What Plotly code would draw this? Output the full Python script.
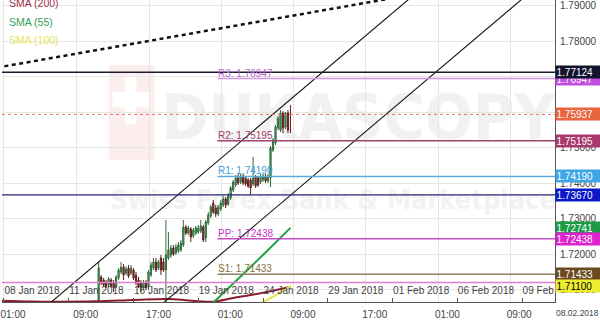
import plotly.graph_objects as go

FONT = "Liberation Sans, Arial, sans-serif"

# ---------------- data ----------------
candle_idx = list(range(78))
open_ = [
    1.70709, 1.71357, 1.71272, 1.71216, 1.71131, 1.71272, 1.71188, 1.71075, 1.71329, 1.71498,
    1.71638, 1.71470, 1.71610, 1.71470, 1.71554, 1.71413, 1.71272, 1.71188, 1.71047, 1.71188,
    1.71075, 1.71413, 1.71610, 1.71779, 1.71610, 1.71892, 1.71779, 1.71554, 1.71892, 1.71977,
    1.72174, 1.72033, 1.72089, 1.72117, 1.72258, 1.72765, 1.72596, 1.72709, 1.72512, 1.72596,
    1.72624, 1.72653, 1.72765, 1.72455, 1.72878, 1.73075, 1.73442, 1.73301, 1.73132, 1.73273,
    1.73386, 1.73555, 1.73414, 1.73583, 1.73808, 1.73949, 1.74146, 1.74034, 1.74203, 1.74146,
    1.74090, 1.74090, 1.73977, 1.74175, 1.74146, 1.74034, 1.74090, 1.74203, 1.74062, 1.74146,
    1.74935, 1.75132, 1.75555, 1.75498, 1.75977, 1.75583, 1.75977, 1.75950]
high = [
    1.71779, 1.71413, 1.71329, 1.71272, 1.71357, 1.71329, 1.71272, 1.71413, 1.71610, 1.71779,
    1.71723, 1.71666, 1.71695, 1.71695, 1.71610, 1.71498, 1.71357, 1.71272, 1.71272, 1.71272,
    1.71554, 1.71779, 1.71892, 1.71892, 1.71836, 1.71977, 1.71892, 1.72963, 1.72624, 1.72258,
    1.72258, 1.72286, 1.72343, 1.72399, 1.72963, 1.72822, 1.72793, 1.72765, 1.72737, 1.72793,
    1.72822, 1.72963, 1.72822, 1.72963, 1.73188, 1.73386, 1.73527, 1.73386, 1.73386, 1.73527,
    1.73639, 1.73611, 1.73723, 1.73921, 1.74090, 1.74231, 1.74287, 1.74259, 1.74259, 1.74203,
    1.74146, 1.74146, 1.74738, 1.74231, 1.74203, 1.74259, 1.74259, 1.74259, 1.74259, 1.75048,
    1.75273, 1.75639, 1.75893, 1.76062, 1.76033, 1.76005, 1.76062, 1.76203]
low = [
    1.70568, 1.71131, 1.71075, 1.71047, 1.71075, 1.71047, 1.70934, 1.71047, 1.71272, 1.71442,
    1.71272, 1.71413, 1.71329, 1.71413, 1.71272, 1.71131, 1.71047, 1.70934, 1.70991, 1.70991,
    1.70991, 1.71357, 1.71554, 1.71498, 1.71554, 1.71413, 1.71498, 1.70568, 1.71836, 1.71892,
    1.71949, 1.71977, 1.72033, 1.72061, 1.72202, 1.72540, 1.72540, 1.72343, 1.72455, 1.72540,
    1.72568, 1.72596, 1.72343, 1.72343, 1.72822, 1.73019, 1.73132, 1.73047, 1.73075, 1.73216,
    1.73329, 1.73301, 1.73358, 1.73527, 1.73752, 1.73893, 1.73949, 1.73977, 1.73949, 1.73921,
    1.73865, 1.73667, 1.73921, 1.73865, 1.73893, 1.73977, 1.74034, 1.74006, 1.74006, 1.73893,
    1.74879, 1.75076, 1.75498, 1.75442, 1.75414, 1.75527, 1.75414, 1.75414]
close = [
    1.71610, 1.71188, 1.71131, 1.71075, 1.71300, 1.71103, 1.71047, 1.71357, 1.71554, 1.71638,
    1.71413, 1.71582, 1.71385, 1.71610, 1.71329, 1.71188, 1.71075, 1.71047, 1.71216, 1.71047,
    1.71498, 1.71695, 1.71779, 1.71554, 1.71779, 1.71554, 1.71554, 1.71977, 1.72117, 1.72174,
    1.72005, 1.72202, 1.72258, 1.72314, 1.72765, 1.72596, 1.72737, 1.72484, 1.72681, 1.72737,
    1.72737, 1.72793, 1.72399, 1.72906, 1.73104, 1.73329, 1.73188, 1.73132, 1.73329, 1.73442,
    1.73555, 1.73386, 1.73639, 1.73865, 1.74034, 1.74146, 1.74006, 1.74203, 1.74006, 1.73977,
    1.73921, 1.73865, 1.74146, 1.73921, 1.73949, 1.74203, 1.74203, 1.74062, 1.74203, 1.74992,
    1.75217, 1.75583, 1.75836, 1.75977, 1.75555, 1.75977, 1.75498, 1.75937]

# moving averages (candle index, value)
sma200_idx = [-39, -27, -16, -1, 14, 28, 35, 41, 46, 54, 61, 68, 77]
sma200_val = [1.70690, 1.70665, 1.70660, 1.70672, 1.70710, 1.70738, 1.70705, 1.70668,
              1.70662, 1.70766, 1.70850, 1.70943, 1.71084]
sma55_idx = [45, 53, 61, 68, 77]
sma55_val = [1.70568, 1.71104, 1.71639, 1.72117, 1.72741]
sma100_idx = [65, 72, 77]
sma100_val = [1.70611, 1.70879, 1.71100]

# drawn trend lines (two anchor points each: candle index, price)
trend_dotted_idx = [-40.8, 129.2]
trend_dotted_val = [1.77256, 1.79352]
channel_upper_idx = [-38.8, 141.2]
channel_upper_val = [1.69476, 1.80175]
channel_lower_idx = [1.2, 185.2]
channel_lower_val = [1.69155, 1.80093]

# pivot levels
pivot_names = ["R3", "R2", "R1", "PP", "S1"]
pivot_vals = [1.76947, 1.75195, 1.74190, 1.72438, 1.71433]
pivot_line_colors = ["#cf95de", "#a0406e", "#5aaed6", "#c34cc6", "#8e7f5e"]
pivot_text_colors = ["#b466cc", "#a0406e", "#3d9dd6", "#c235c2", "#857040"]
pivot_start = 47.7

# full-width level lines
level_vals = [1.77124, 1.75937, 1.73670, 1.71200]
level_colors = ["#1a1a2e", "#e47d62", "#25257a", "#e27ccc"]
level_dash = ["solid", "dot", "solid", "solid"]
level_width = [1.6, 1, 1.3, 1.5]

# price labels on the right axis (drawn in this order)
tag_vals = [1.76947, 1.77124, 1.75937, 1.75195, 1.74190, 1.73670, 1.72741, 1.72438,
            1.71200, 1.71433, 1.71100]
tag_bg = ["#c24ee0", "#13132e", "#e8653e", "#a8386e", "#3ea6e6", "#0b18c8", "#1c9a45",
          "#de22cf", "#e0306e", "#6b4a22", "#eeee30"]
tag_fg = ["white"] * 10 + ["black"]

# axes
y_range = [1.70653, 1.79161]
x_range = [-38.8, 183.2]
price_ticks = [1.71, 1.72, 1.73, 1.74, 1.75, 1.76, 1.77, 1.78, 1.79]
time_grid = [-38, -8.8, 20.4, 49.2, 78.4, 107.2, 136.4, 165.2]
time_labels = ["01:00", "09:00", "17:00", "01:00", "09:00", "17:00", "01:00", "09:00"]
date_ticks = [-38, -12, 14, 40, 66, 92, 118, 144, 170]
date_labels = ["08 Jan 2018", "11 Jan 2018", "16 Jan 2018", "19 Jan 2018", "24 Jan 2018",
               "29 Jan 2018", "01 Feb 2018", "06 Feb 2018", "09 Feb"]
legend_names = ["SMA (200)", "SMA (55)", "SMA (100)"]
legend_colors = ["#a2304a", "#35a05a", "#e6e45a"]

# ---------------- figure ----------------
fig = go.Figure()

WM_FONT = "Liberation Sans Narrow, DejaVu Sans Condensed, sans-serif"
# watermark (behind everything)
fig.add_shape(type="rect", xref="paper", yref="paper", x0=0.193, x1=0.276, y0=0.47, y1=0.785,
              fillcolor="#fdeeee", line_width=0, layer="below")
fig.add_shape(type="rect", xref="paper", yref="paper", x0=0.222, x1=0.243, y0=0.59, y1=0.75,
              fillcolor="white", line_width=0, layer="below")
fig.add_shape(type="rect", xref="paper", yref="paper", x0=0.2, x1=0.267, y0=0.645, y1=0.695,
              fillcolor="white", line_width=0, layer="below")
fig.add_shape(type="rect", xref="paper", yref="paper", x0=0.283, x1=1.0, y0=0.47, y1=0.785,
              fillcolor="rgba(0,0,0,0)", line_width=0, layer="below",
              label=dict(text="DUKASCOPY", textposition="middle left", padding=0,
                         font=dict(family=WM_FONT, size=63, color="#f1f1f1", weight=700)))
fig.add_shape(type="rect", xref="paper", yref="paper", x0=0.19, x1=1.0, y0=0.29, y1=0.40,
              fillcolor="rgba(0,0,0,0)", line_width=0, layer="below",
              label=dict(text="Swiss Forex Bank & Marketplace", textposition="middle left", padding=0,
                         font=dict(family=WM_FONT, size=27, color="#f2f2f2", weight=700)))

# pivot lines
for name, v, lc, tc in zip(pivot_names, pivot_vals, pivot_line_colors, pivot_text_colors):
    fig.add_shape(type="line", xref="x", yref="y", x0=pivot_start, x1=x_range[1], y0=v, y1=v,
                  line=dict(color=lc, width=1.5), layer="above")
    fig.add_annotation(xref="x", yref="y", x=pivot_start, y=v, xanchor="left", yanchor="bottom",
                       yshift=-1, text=f"{name}: {v:.5f}", showarrow=False, borderpad=0,
                       font=dict(family=FONT, size=10, color=tc))

# full width level lines
for v, c, d, w in zip(level_vals, level_colors, level_dash, level_width):
    fig.add_shape(type="line", xref="paper", yref="y", x0=0, x1=1, y0=v, y1=v,
                  line=dict(color=c, width=w, dash=d), layer="above")

# candles
fig.add_trace(go.Candlestick(
    x=candle_idx, open=open_, high=high, low=low, close=close,
    increasing=dict(line=dict(color="#2f6b3d", width=1), fillcolor="#56a05f"),
    decreasing=dict(line=dict(color="#5e1f1f", width=1), fillcolor="#a23a30"),
    whiskerwidth=0, showlegend=False, hoverinfo="skip"))

# moving averages
fig.add_trace(go.Scatter(x=sma200_idx, y=sma200_val, mode="lines", line=dict(color="#8c1c2e", width=2),
                         line_shape="spline", showlegend=False, hoverinfo="skip"))
fig.add_trace(go.Scatter(x=sma55_idx, y=sma55_val, mode="lines", line=dict(color="#27a043", width=2),
                         line_shape="spline", showlegend=False, hoverinfo="skip"))
fig.add_trace(go.Scatter(x=sma100_idx, y=sma100_val, mode="lines", line=dict(color="#e8e44a", width=2),
                         line_shape="spline", showlegend=False, hoverinfo="skip"))

# trend lines (on overlaying x axis carrying the date ticks)
fig.add_trace(go.Scatter(x=trend_dotted_idx, y=trend_dotted_val, xaxis="x2", mode="lines",
                         line=dict(color="#111", width=2.5, dash="4px,3.5px"),
                         showlegend=False, hoverinfo="skip"))
fig.add_trace(go.Scatter(x=channel_upper_idx, y=channel_upper_val, xaxis="x2", mode="lines",
                         line=dict(color="#111", width=1.1), showlegend=False, hoverinfo="skip"))
fig.add_trace(go.Scatter(x=channel_lower_idx, y=channel_lower_val, xaxis="x2", mode="lines",
                         line=dict(color="#111", width=1.1), showlegend=False, hoverinfo="skip"))

# right price tags
for v, bg, fg in zip(tag_vals, tag_bg, tag_fg):
    fig.add_annotation(xref="paper", yref="y", x=1, y=v, xanchor="left", yanchor="middle",
                       text=f"{v:.5f}", showarrow=False, bgcolor=bg, borderpad=0.5,
                       width=44, height=11, align="left",
                       font=dict(family=FONT, size=10, color=fg))

# legend text
for k, (n, c) in enumerate(zip(legend_names, legend_colors)):
    fig.add_annotation(xref="paper", yref="paper", x=0.009, y=[0.991, 0.928, 0.869][k],
                       xanchor="left", yanchor="middle", text=n, showarrow=False,
                       font=dict(family=FONT, size=10.5, color=c))

fig.add_annotation(xref="paper", yref="paper", x=1, y=0, xanchor="left", yanchor="middle",
                   xshift=0, yshift=-11, text="08.02.2018", showarrow=False, borderpad=0,
                   font=dict(family=FONT, size=8.5, color="#444"))

axis_font = dict(family=FONT, size=10, color="#444")
fig.update_layout(
    width=600, height=320, margin=dict(l=0, r=45, t=0, b=18),
    plot_bgcolor="white", paper_bgcolor="white", showlegend=False,
    xaxis=dict(range=x_range, tickvals=time_grid, ticktext=time_labels, showgrid=True,
               gridcolor="#e6e6e6", gridwidth=1, zeroline=False, showline=True,
               linecolor="#555", linewidth=1, ticks="", tickfont=axis_font, tickangle=0,
               ticklabelshift=9, ticklabelstandoff=3, ticklabeloverflow="allow",
               rangeslider=dict(visible=False), fixedrange=True),
    xaxis2=dict(overlaying="x", anchor="y", side="bottom", range=x_range, tickvals=date_ticks,
                ticktext=date_labels, ticks="inside", ticklen=4, tickcolor="#555", tickangle=0,
                ticklabelposition="inside right", ticklabeloverflow="allow",
                showgrid=False, zeroline=False, showline=False, tickfont=axis_font),
    yaxis=dict(side="right", range=y_range, tickvals=price_ticks,
               ticktext=[f"{t:.5f}" for t in price_ticks], showgrid=True, gridcolor="#e6e6e6",
               zeroline=False, showline=True, linecolor="#555", linewidth=1, ticks="",
               tickfont=axis_font, ticklabelstandoff=2),
)

fig.write_html("out.html")
